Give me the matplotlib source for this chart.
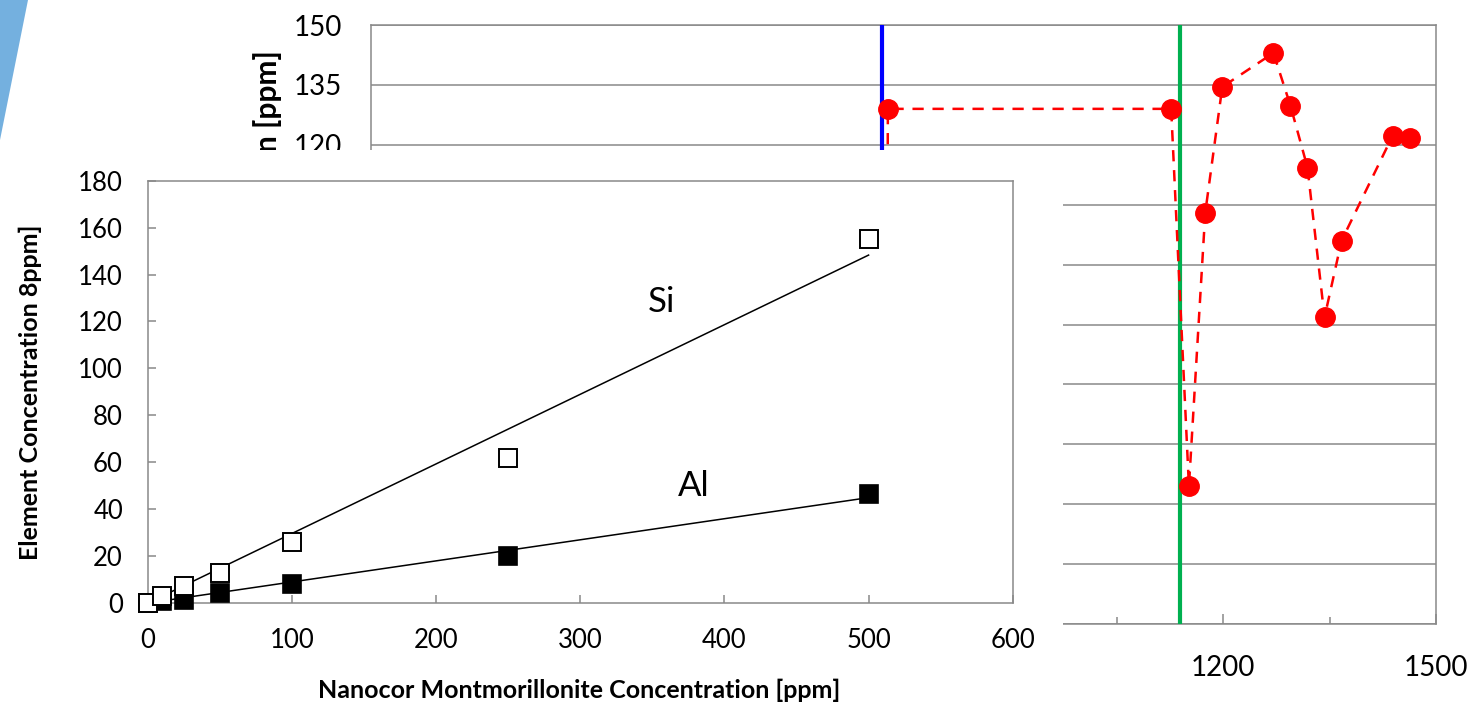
import matplotlib
matplotlib.use("Agg")
import matplotlib.pyplot as plt
import numpy as np
from matplotlib.patches import Rectangle, Polygon

# background chart (partly hidden): dissolved concentration over time
bg_x = [726, 728, 1127, 1152, 1175, 1199, 1271, 1295, 1319, 1343, 1367, 1439, 1463]
bg_y = [40, 129, 129, 34.5, 103, 134.5, 143, 129.8, 114.3, 76.8, 96, 122.3, 121.7]
blue_mark = 720
green_mark = 1140

# foreground chart: element concentration vs clay concentration
clay = [0, 10, 25, 50, 100, 250, 500]
si = [0, 3, 7.2, 12.9, 26, 62, 155.3]
al = [0, 1, 1.3, 4.1, 8.1, 20, 46.4]

W, H = 1479, 714
GRAY = "#898989"

plt.rcParams.update({"font.family": ["Lato", "DejaVu Sans"]})
fig = plt.figure(figsize=(W / 100, H / 100), dpi=100, facecolor="white")


def box(x0, y0, x1, y1):
    # pixel box (top-left origin) -> figure fraction rect
    return [x0 / W, 1 - y1 / H, (x1 - x0) / W, (y1 - y0) / H]


# ---- background chart ----
ax_bg = fig.add_axes(box(371, 25, 1436, 624), zorder=0)
ax_bg.plot(bg_x, bg_y, color="#ff0000", lw=1.8, ls=(0, (4.5, 3.5)),
           marker="o", ms=14, mec="#ff0000", mfc="#ff0000", zorder=4)
ax_bg.axvline(blue_mark, color="#0000ff", lw=3, zorder=3)
ax_bg.axvline(green_mark, color="#00b050", lw=3, zorder=3)
ax_bg.set_xlim(0, 1500)
ax_bg.set_ylim(0, 150)
ax_bg.set_xticks(np.arange(0, 1501, 300))
ax_bg.set_xticks(np.arange(150, 1500, 300), minor=True)
ax_bg.set_yticks(np.arange(0, 151, 15))
ax_bg.grid(axis="y", color=GRAY, lw=1.1)
ax_bg.set_axisbelow(True)
ax_bg.tick_params(axis="x", which="major", direction="in", length=7.5,
                  width=1.1, color=GRAY, labelsize=20, pad=22)
ax_bg.tick_params(axis="x", which="minor", direction="in", length=5,
                  width=1.1, color=GRAY)
ax_bg.tick_params(axis="y", length=0, labelsize=20, pad=21)
for sp in ax_bg.spines.values():
    sp.set_color(GRAY)
    sp.set_linewidth(1.1)
ax_bg.text(268 / W, 1 - 50 / H, "Silicon Concentration [ppm]",
           transform=fig.transFigure, rotation=90, ha="center", va="top",
           fontsize=21.5, fontweight="bold")

# blue slide decoration
fig.patches.append(Polygon([[0, 1], [28 / W, 1], [0, 1 - 140 / H]], closed=True,
                           transform=fig.transFigure, fc="#74b0df", ec="none",
                           zorder=1))
# white panel of the pasted foreground chart
fig.patches.append(Rectangle((0, 0), 1063 / W, (H - 150) / H,
                             transform=fig.transFigure, fc="white", ec="none",
                             zorder=1))

# ---- foreground chart ----
ax = fig.add_axes(box(148, 180.7, 1012.7, 603), zorder=2)
ax.set_facecolor("white")

x = np.array(clay, dtype=float)
for vals in (si, al):
    y = np.array(vals, dtype=float)
    slope = (x * y).sum() / (x * x).sum()
    ax.plot([0, x.max()], [0, slope * x.max()], color="black", lw=1.1, zorder=2)

ax.plot(clay, al, ls="none", marker="s", ms=13, mfc="black", mec="black",
        mew=1.2, zorder=3, clip_on=False)
ax.plot(clay, si, ls="none", marker="s", ms=13, mfc="white", mec="black",
        mew=1.4, zorder=4, clip_on=False)

ax.text(356, 128.3, "Si", fontsize=25, ha="center", va="center")
ax.text(379, 50, "Al", fontsize=25, ha="center", va="center")

ax.set_xlim(0, 600)
ax.set_ylim(0, 180)
ax.set_xticks(np.arange(0, 601, 100))
ax.set_yticks(np.arange(0, 181, 20))
ax.tick_params(direction="in", length=6, width=1.1, color=GRAY,
               labelsize=18.5, pad=18)
for sp in ax.spines.values():
    sp.set_color(GRAY)
    sp.set_linewidth(1.1)

ax.set_xlabel("Nanocor Montmorillonite Concentration [ppm]", fontsize=18,
              fontweight="bold")
ax.xaxis.set_label_coords(0.4985, (603 - 690) / (603 - 180.7))
ax.xaxis.label.set_va("center")
ax.set_ylabel("Element Concentration 8ppm]", fontsize=18, fontweight="bold")
ax.yaxis.set_label_coords((30 - 148) / (1012.7 - 148), 0.5)
ax.yaxis.label.set_va("center")

fig.savefig("out.png", dpi=100, facecolor="white")
